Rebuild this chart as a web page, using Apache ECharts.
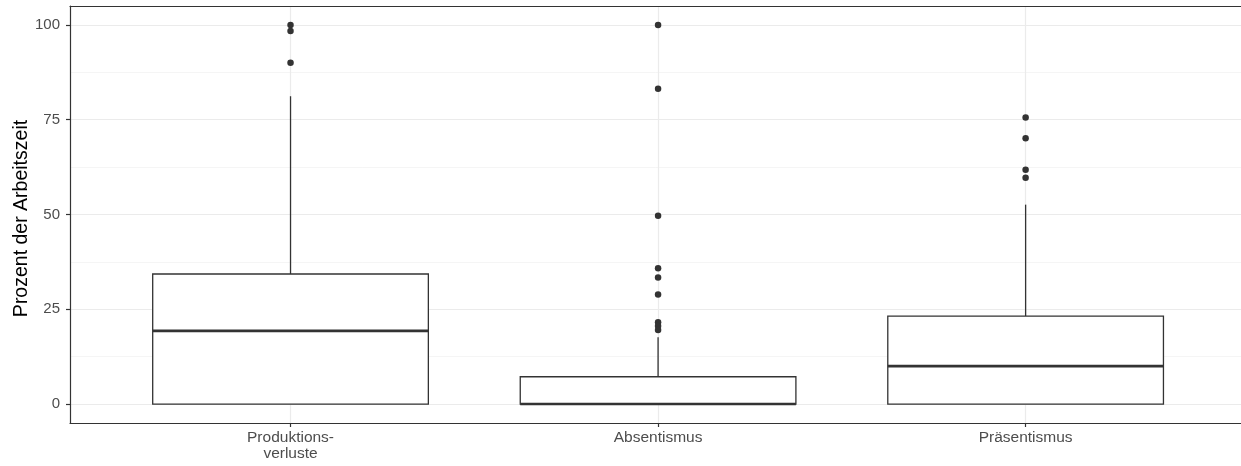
<!DOCTYPE html>
<html>
<head>
<meta charset="utf-8">
<script src="https://cdn.jsdelivr.net/npm/echarts@6/dist/echarts.min.js"></script>
<style>html,body{margin:0;padding:0;background:#fff}#c{width:1241px;height:466px}</style>
</head>
<body>
<div id="c"></div>
<script>
var categories = ['Produktions-\nverluste', 'Absentismus', 'Präsentismus'];
// [lower whisker, Q1, median, Q3, upper whisker]
var boxStats = [
  [0, 0, 19.3, 34.3, 81.2],
  [0, 0, 0, 7.2, 17.6],
  [0, 0, 10.0, 23.2, 52.6]
];
var outliersProd = [100, 98.4, 90];
var outliersAbs = [100, 83.2, 49.7, 35.8, 33.4, 28.9, 21.6, 20.6, 19.5];
var outliersPrae = [75.6, 70.1, 61.8, 59.7];
var yTicks = [0, 25, 50, 75, 100];
var yMinor = [12.5, 37.5, 62.5, 87.5];

var outlierData = [];
[outliersProd, outliersAbs, outliersPrae].forEach(function (arr, i) {
  arr.forEach(function (v) { outlierData.push([i + 1, v]); });
});
var boxData = boxStats.map(function (s, i) { return [i + 1].concat(s); });

var chart = echarts.init(document.getElementById('c'), null, {renderer: 'canvas'});
var lineColor = '#333333';
var font = 'Liberation Sans, Arial, sans-serif';
// plot panel is cut at the right edge of the image: the visible part spans 0.4 .. 3.586
var xMin = 0.4, xMax = 3.586;
chart.setOption({
  animation: false,
  grid: {left: 70, top: 6, right: 0, height: 417, containLabel: false, outerBoundsMode: 'none'},
  xAxis: [{
    type: 'value', min: xMin, max: xMax,
    axisLine: {show: true, onZero: false, lineStyle: {color: lineColor, width: 1.2}},
    axisTick: {show: true, length: 4, customValues: [1, 2, 3], lineStyle: {color: lineColor, width: 1.2}},
    axisLabel: {customValues: [1, 2, 3], color: '#4d4d4d', fontSize: 15.5, fontFamily: font, lineHeight: 16, margin: 7,
      formatter: function (v) { return categories[Math.round(v) - 1] || ''; }},
    splitLine: {show: true, lineStyle: {color: '#ebebeb', width: 1.2}}
  }, {
    type: 'value', min: xMin, max: xMax, position: 'top',
    axisLine: {show: true, onZero: false, lineStyle: {color: lineColor, width: 1.2}},
    axisTick: {show: false}, axisLabel: {show: false}, splitLine: {show: false}
  }],
  yAxis: [{
    type: 'value', min: -5, max: 105,
    name: 'Prozent der Arbeitszeit', nameLocation: 'middle', nameGap: 38, nameRotate: 90, nameMoveOverlap: false,
    nameTextStyle: {color: '#000', fontSize: 19.5, fontFamily: font, padding: [0, 8, 0, 0]},
    axisLine: {show: true, lineStyle: {color: lineColor, width: 1.2}},
    axisTick: {show: true, length: 4, customValues: yTicks, lineStyle: {color: lineColor, width: 1.2}},
    axisLabel: {customValues: yTicks, color: '#4d4d4d', fontSize: 15, fontFamily: font, margin: 10},
    splitLine: {show: true, lineStyle: {color: '#ebebeb', width: 1.2}}
  }, {
    type: 'value', min: -5, max: 105, position: 'right',
    axisLine: {show: false},
    axisTick: {show: false, customValues: yMinor},
    axisLabel: {show: false, customValues: yMinor},
    splitLine: {show: true, lineStyle: {color: '#f2f2f2', width: 0.8}}
  }],
  series: [{
    type: 'custom',
    data: boxData,
    encode: {x: 0, y: [1, 2, 3, 4, 5]},
    renderItem: function (params, api) {
      var x = api.value(0);
      var half = 0.375;
      var lw = api.value(1), q1 = api.value(2), med = api.value(3), q3 = api.value(4), uw = api.value(5);
      var pL = api.coord([x - half, q3]);
      var pR = api.coord([x + half, q1]);
      var pC = api.coord([x, q3]);
      var pW = api.coord([x, uw]);
      var pC1 = api.coord([x, q1]);
      var pWl = api.coord([x, lw]);
      var mL = api.coord([x - half, med]);
      var mR = api.coord([x + half, med]);
      var style = {stroke: lineColor, lineWidth: 1.3, fill: null};
      return {
        type: 'group',
        children: [
          {type: 'line', shape: {x1: pC[0], y1: pC[1], x2: pW[0], y2: pW[1]}, style: style},
          {type: 'line', shape: {x1: pC1[0], y1: pC1[1], x2: pWl[0], y2: pWl[1]}, style: style},
          {type: 'rect', shape: {x: pL[0], y: pL[1], width: pR[0] - pL[0], height: pR[1] - pL[1]}, style: {stroke: lineColor, lineWidth: 1.3, fill: '#fff'}},
          {type: 'line', shape: {x1: mL[0], y1: mL[1], x2: mR[0], y2: mR[1]}, style: {stroke: lineColor, lineWidth: 2.6}}
        ]
      };
    }
  }, {
    type: 'scatter',
    data: outlierData,
    symbolSize: 6.5,
    itemStyle: {color: lineColor, opacity: 1},
    z: 5
  }]
});
</script>
</body>
</html>
